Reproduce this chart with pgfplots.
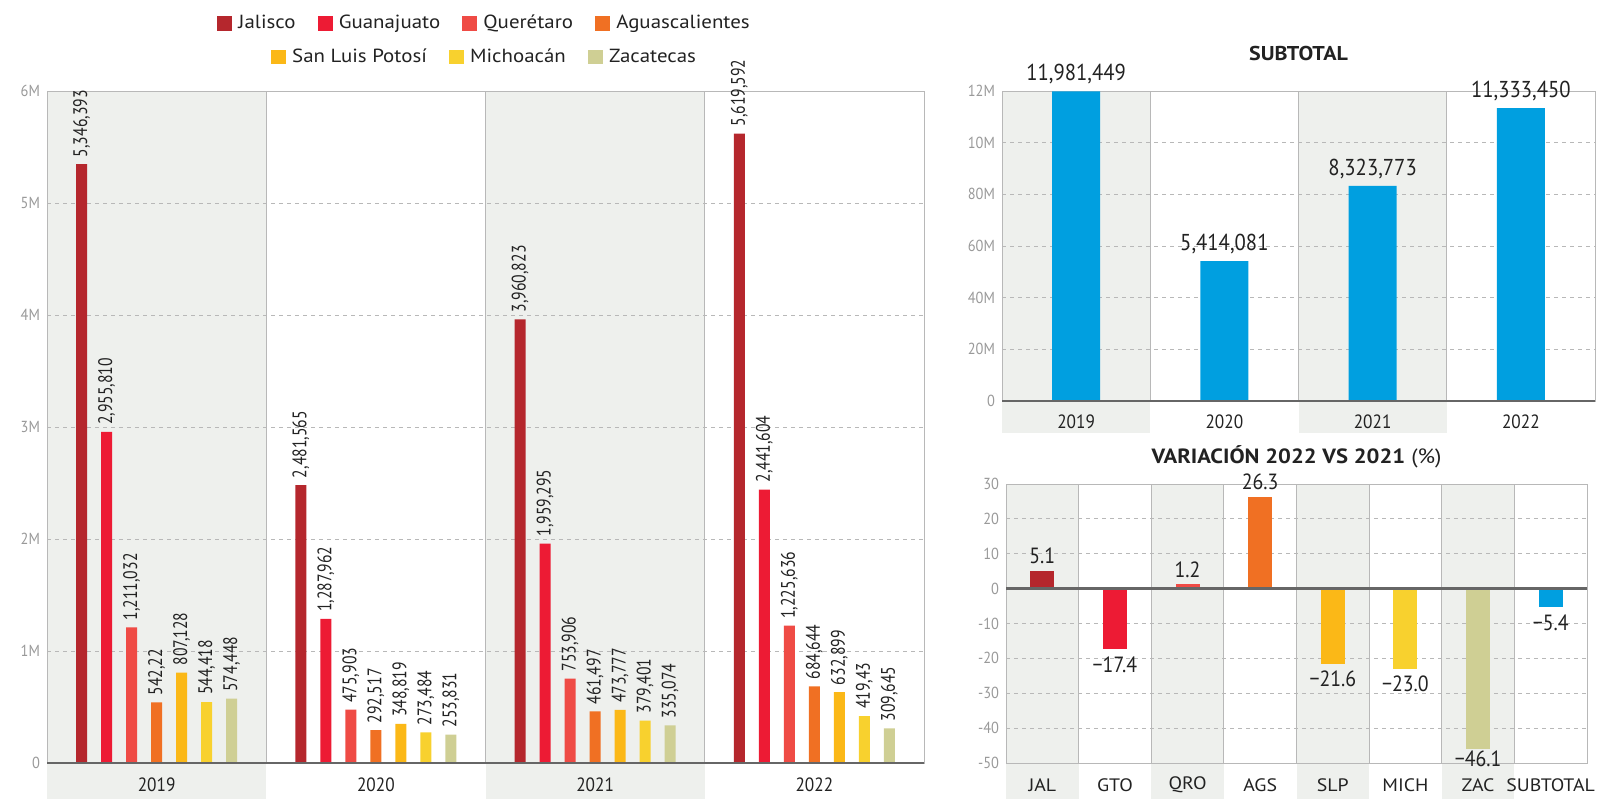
\documentclass[border=0pt]{standalone}
\usepackage{pgfplots}
\pgfplotsset{compat=1.18}
\usepackage{fontspec}
\setmainfont{PT Sans}[FakeStretch=0.9]
\newfontfamily\wfont{PT Sans}[FakeStretch=1.1]
\newfontfamily\nfont{PT Sans}[FakeStretch=0.8]
\definecolor{jal}{HTML}{B5272D}
\definecolor{gto}{HTML}{ED1B34}
\definecolor{qro}{HTML}{EF4B45}
\definecolor{ags}{HTML}{F07023}
\definecolor{slp}{HTML}{FBB817}
\definecolor{mich}{HTML}{F8D12E}
\definecolor{zac}{HTML}{CFCF94}
\definecolor{sub}{HTML}{009FE0}
\definecolor{cBand}{HTML}{EEF0ED}
\definecolor{cTick}{HTML}{999999}
\definecolor{cTxt}{HTML}{222222}
\definecolor{cFrame}{HTML}{B8B8B8}
\definecolor{cBase}{HTML}{666666}
\pgfplotsset{
  sqleg/.style={legend image code/.code={\fill[##1] (0pt,-3.7pt) rectangle (7.6pt,3.7pt);}},
  neg/.style={every node near coord/.append style={anchor=north}},
  basepanel/.style={
    scale only axis, clip=false, set layers,
    axis line style={cFrame},
    major tick length=0pt, minor tick length=0pt,
    ymajorgrids, major grid style={cFrame, dash pattern=on 2pt off 2pt},
    xminorgrids, minor grid style={cFrame, solid},
    scaled y ticks=false,
    yticklabel style={text=cTick, font=\fontsize{8}{9}\selectfont},
    xticklabel style={text=cTxt, font=\fontsize{9.6}{10}\selectfont, anchor=center},
    every axis title/.style={at={(0.5,1)}, anchor=center, text=cTxt},
  },
}
\begin{document}
\begin{tikzpicture}
% ---------------- left panel ----------------
\begin{axis}[basepanel, at={(23.5pt,18pt)}, anchor=south west,
  width=438.5pt, height=336pt,
  xmin=-0.5, xmax=3.5, ymin=0, ymax=6000000,
  xtick={0,1,2,3}, xticklabels={2019,2020,2021,2022},
  minor xtick={0.5,1.5,2.5},
  ytick={0,1000000,2000000,3000000,4000000,5000000,6000000},
  yticklabels={0,1M,2M,3M,4M,5M,6M},
  xticklabel style={yshift=-11pt},
  ybar=7pt, bar width=5.5pt,
  point meta=explicit symbolic, nodes near coords,
  nodes near coords style={rotate=90, anchor=west, text=cTxt, font=\nfont\fontsize{9.8}{10}\selectfont},
  legend columns=4,
  legend style={at={(0.5,1.101)}, anchor=center, draw=none, fill=none,
    font=\wfont\fontsize{9.5}{11}\selectfont, text=cTxt,
    column sep=1pt, /tikz/every even column/.append style={column sep=9pt}},
]
\begin{pgfonlayer}{axis background}
\fill[cBand] ([yshift=-18pt]axis cs:-0.5,0) rectangle (axis cs:0.5,6000000);
\fill[cBand] ([yshift=-18pt]axis cs:1.5,0) rectangle (axis cs:2.5,6000000);
\end{pgfonlayer}
\addplot[fill=jal, draw=none, sqleg] coordinates {(0,5346393) [{5,346,393}] (1,2481565) [{2,481,565}] (2,3960823) [{3,960,823}] (3,5619592) [{5,619,592}]};
\addlegendentry{Jalisco}
\addplot[fill=gto, draw=none, sqleg] coordinates {(0,2955810) [{2,955,810}] (1,1287962) [{1,287,962}] (2,1959295) [{1,959,295}] (3,2441604) [{2,441,604}]};
\addlegendentry{Guanajuato}
\addplot[fill=qro, draw=none, sqleg] coordinates {(0,1211032) [{1,211,032}] (1,475903) [{475,903}] (2,753906) [{753,906}] (3,1225636) [{1,225,636}]};
\addlegendentry{Querétaro}
\addplot[fill=ags, draw=none, sqleg] coordinates {(0,542220) [{542,22}] (1,292517) [{292,517}] (2,461497) [{461,497}] (3,684644) [{684,644}]};
\addlegendentry{Aguascalientes}
\addplot[fill=slp, draw=none] coordinates {(0,807128) [{807,128}] (1,348819) [{348,819}] (2,473777) [{473,777}] (3,632899) [{632,899}]};
\addplot[fill=mich, draw=none] coordinates {(0,544418) [{544,418}] (1,273484) [{273,484}] (2,379401) [{379,401}] (3,419430) [{419,43}]};
\addplot[fill=zac, draw=none] coordinates {(0,574448) [{574,448}] (1,253831) [{253,831}] (2,335074) [{335,074}] (3,309645) [{309,645}]};
\draw[cBase, line width=1.2pt] (axis cs:-0.5,0) -- (axis cs:3.5,0);
\end{axis}
% second legend row
\begin{axis}[scale only axis, at={(23.5pt,18pt)}, anchor=south west,
  width=438.5pt, height=336pt, hide axis, xmin=0, xmax=1, ymin=0, ymax=1,
  legend image code/.code={\fill[#1] (0pt,-3.7pt) rectangle (7.6pt,3.7pt);},
  legend columns=3,
  legend style={at={(0.5,1.0506)}, anchor=center, draw=none, fill=none,
    font=\wfont\fontsize{9.5}{11}\selectfont, text=cTxt,
    column sep=1pt, /tikz/every even column/.append style={column sep=9pt}},
]
\addplot[draw=none, forget plot] coordinates {(0,0) (1,1)};
\addlegendimage{fill=slp, draw=none}
\addlegendentry{San Luis Potosí}
\addlegendimage{fill=mich, draw=none}
\addlegendentry{Michoacán}
\addlegendimage{fill=zac, draw=none}
\addlegendentry{Zacatecas}
\end{axis}
% ---------------- top right panel ----------------
\begin{axis}[basepanel, at={(501pt,199pt)}, anchor=south west,
  width=296.5pt, height=155pt,
  xmin=-0.5, xmax=3.5, ymin=0, ymax=12000000,
  xtick={0,1,2,3}, xticklabels={2019,2020,2021,2022},
  minor xtick={0.5,1.5,2.5},
  ytick={0,2000000,4000000,6000000,8000000,10000000,12000000},
  yticklabels={0,20M,40M,60M,80M,10M,12M},
  xticklabel style={yshift=-10.3pt},
  ybar, bar width=24pt,
  point meta=explicit symbolic, nodes near coords,
  nodes near coords style={text=cTxt, font=\fontsize{11.5}{12}\selectfont},
  title={\bfseries SUBTOTAL}, title style={yshift=18.5pt, font=\wfont\fontsize{10}{11}\selectfont},
]
\begin{pgfonlayer}{axis background}
\fill[cBand] ([yshift=-16pt]axis cs:-0.5,0) rectangle (axis cs:0.5,12000000);
\fill[cBand] ([yshift=-16pt]axis cs:1.5,0) rectangle (axis cs:2.5,12000000);
\end{pgfonlayer}
\addplot[fill=sub, draw=none] coordinates {(0,11981449) [{11,981,449}] (1,5414081) [{5,414,081}] (2,8323773) [{8,323,773}] (3,11333450) [{11,333,450}]};
\draw[cBase, line width=1.2pt] (axis cs:-0.5,0) -- (axis cs:3.5,0);
\end{axis}
% ---------------- bottom right panel ----------------
\begin{axis}[basepanel, at={(503pt,18pt)}, anchor=south west,
  width=290.5pt, height=139.5pt,
  xmin=-0.5, xmax=7.5, ymin=-50, ymax=30,
  xtick={0,1,2,3,4,5,6,7}, xticklabels={JAL,GTO,QRO,AGS,SLP,MICH,ZAC,SUBTOTAL},
  minor xtick={0.5,1.5,2.5,3.5,4.5,5.5,6.5},
  ytick={-50,-40,-30,-20,-10,0,10,20,30},
  yticklabels={-50,-40,-30,-20,-10,0,10,20,30},
  xticklabel style={yshift=-11pt, font=\wfont\fontsize{9}{10}\selectfont},
  ybar, bar width=12pt,
  point meta=explicit symbolic, nodes near coords,
  nodes near coords style={text=cTxt, font=\fontsize{11}{12}\selectfont},
  title={{\bfseries VARIACIÓN 2022 VS 2021} (\%)}, title style={yshift=13.5pt, font=\wfont\fontsize{10.3}{12}\selectfont},
]
\begin{pgfonlayer}{axis background}
\fill[cBand] ([yshift=-18pt]axis cs:-0.5,-50) rectangle (axis cs:0.5,30);
\fill[cBand] ([yshift=-18pt]axis cs:1.5,-50) rectangle (axis cs:2.5,30);
\fill[cBand] ([yshift=-18pt]axis cs:3.5,-50) rectangle (axis cs:4.5,30);
\fill[cBand] ([yshift=-18pt]axis cs:5.5,-50) rectangle (axis cs:6.5,30);
\end{pgfonlayer}
\addplot[fill=jal, draw=none, bar shift=0pt] coordinates {(0,5.1) [5.1]};
\addplot[fill=gto, draw=none, bar shift=0pt, neg] coordinates {(1,-17.4) [−17.4]};
\addplot[fill=qro, draw=none, bar shift=0pt] coordinates {(2,1.2) [1.2]};
\addplot[fill=ags, draw=none, bar shift=0pt] coordinates {(3,26.3) [26.3]};
\addplot[fill=slp, draw=none, bar shift=0pt, neg] coordinates {(4,-21.6) [−21.6]};
\addplot[fill=mich, draw=none, bar shift=0pt, neg] coordinates {(5,-23.0) [−23.0]};
\addplot[fill=zac, draw=none, bar shift=0pt, neg, every node near coord/.append style={yshift=3pt}] coordinates {(6,-46.1) [−46.1]};
\addplot[fill=sub, draw=none, bar shift=0pt, neg] coordinates {(7,-5.4) [−5.4]};
\draw[cBase, line width=1.2pt] (axis cs:-0.5,0) -- (axis cs:7.5,0);
\end{axis}
\pgfresetboundingbox
\useasboundingbox (0pt,0pt) rectangle (810.5pt,399.5pt);
\end{tikzpicture}
\end{document}
